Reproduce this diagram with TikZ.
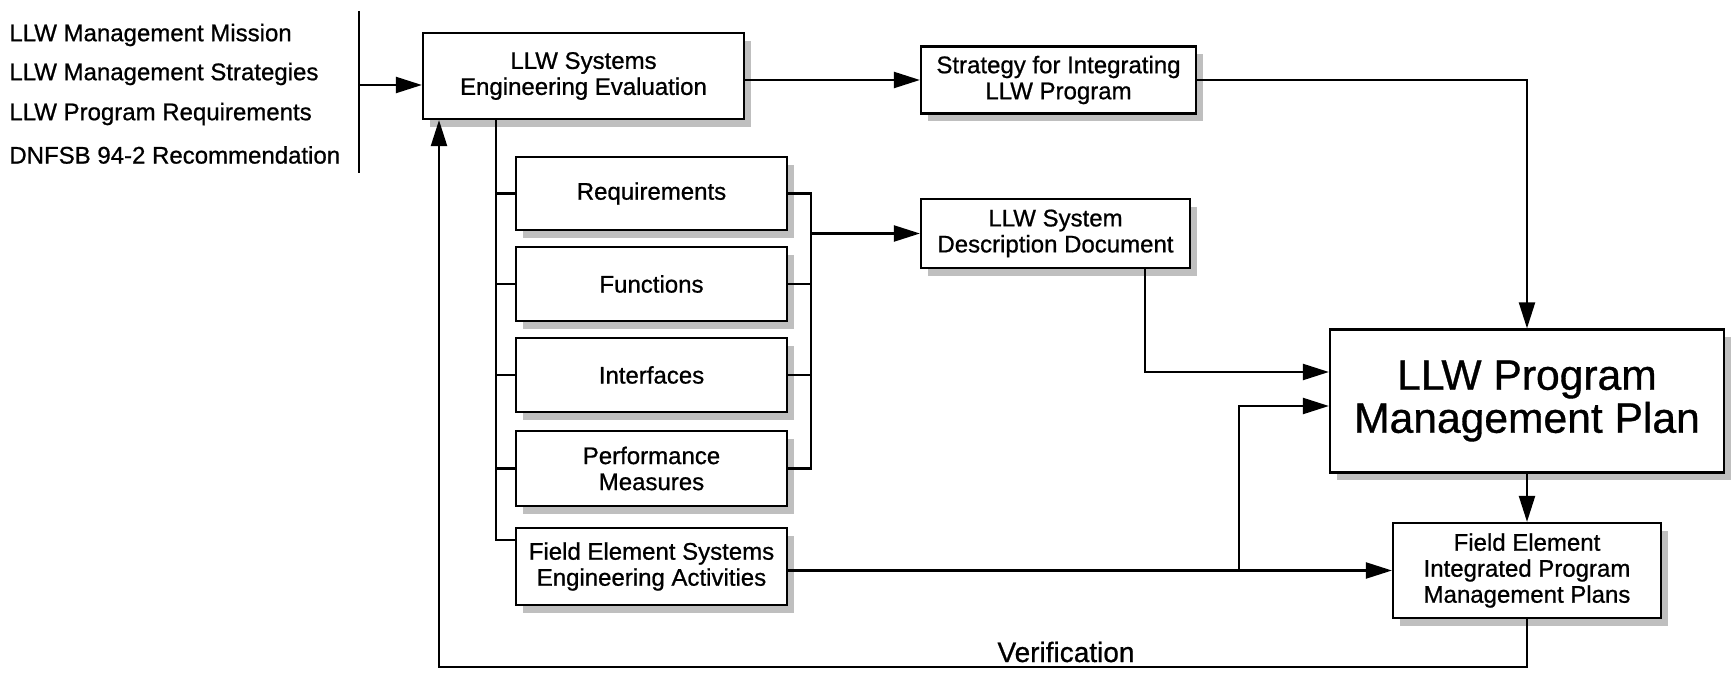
\documentclass[tikz,border=0pt]{standalone}
\usepackage{fontspec}
\setmainfont{Liberation Sans}[FakeBold=0.8]
\usetikzlibrary{arrows.meta,shadows}
\begin{document}
\begin{tikzpicture}[x=0.5pt,y=-0.5pt,
  box/.style={draw,line width=1.1pt,fill=white,align=center,inner sep=0pt,
    drop shadow={shadow xshift=3.5pt,shadow yshift=-4pt,fill=gray!50,opacity=1}},
  ln/.style={line width=1.1pt},
  arr/.style={line width=1.1pt,-{Triangle[length=13pt,width=8pt]}},
  lbl/.style={anchor=west,inner sep=0pt},
  font=\fontsize{12}{13}\selectfont]
\useasboundingbox (0,0) rectangle (1731,678);

% left inputs
\node[lbl] (t1) at (9,35) {LLW Management Mission};
\node[lbl] (t2) at (9,74) {LLW Management Strategies};
\node[lbl] (t3) at (9,114) {LLW Program Requirements};
\node[lbl] (t4) at (9,155) {DNFSB 94-2 Recommendation};
\coordinate (bartop) at (359,11);
\coordinate (barbot) at (359,173);
\coordinate (in) at (359,85);
\draw[ln] (bartop) -- (barbot);

% boxes
\node[box,minimum width=160.5pt,minimum height=43pt] (see) at (583.5,76) {LLW Systems\\Engineering Evaluation};
\node[box,minimum width=137.5pt,minimum height=33.5pt] (strat) at (1058.5,80) {Strategy for Integrating\\LLW Program};
\node[box,minimum width=134.5pt,minimum height=34.5pt] (sdd) at (1055.5,233.5) {LLW System\\Description Document};
\node[box,minimum width=197pt,minimum height=71.5pt,font=\fontsize{21.3}{21.5}\selectfont] (pmp) at (1527,401) {LLW Program\\Management Plan};
\node[box,minimum width=134pt,minimum height=47.5pt] (feip) at (1527,570.5) {Field Element\\Integrated Program\\Management Plans};

\node[box,minimum width=135.5pt,minimum height=36.5pt] (req) at (651.5,193.5) {Requirements};
\node[box,minimum width=135.5pt,minimum height=37pt] (func) at (651.5,284) {Functions};
\node[box,minimum width=135.5pt,minimum height=37pt] (intf) at (651.5,375) {Interfaces};
\node[box,minimum width=135.5pt,minimum height=37.5pt] (perf) at (651.5,468.5) {Performance\\Measures};
\node[box,minimum width=135.5pt,minimum height=38.5pt] (fesea) at (651.5,566.5) {Field Element Systems\\Engineering Activities};

% connectors
\draw[arr] (in) -- (see.west |- in);
\draw[arr] (see.east |- strat) -- (strat.west);
\draw[arr] (strat.east) -| (pmp.north);

\coordinate (fb) at (496,540);
\draw[ln] (see.south -| fb) -- (fb) -- (fb -| fesea.west);
\draw[ln] (fb |- req) -- (req.west);
\draw[ln] (fb |- func) -- (func.west);
\draw[ln] (fb |- intf) -- (intf.west);
\draw[ln] (fb |- perf) -- (perf.west);

\coordinate (rb) at (811,0);
\draw[ln] (req.east) -- (req -| rb) -- (perf -| rb) -- (perf.east);
\draw[ln] (func.east) -- (func -| rb);
\draw[ln] (intf.east) -- (intf -| rb);
\draw[arr] (rb |- sdd) -- (sdd.west);

\coordinate (sx) at (1145,372);
\draw[arr] (sdd.south -| sx) -- (sx) -- (sx -| pmp.west);

\draw[arr] (fesea.east |- feip) -- (feip.west);
\coordinate (bx) at (1239,406);
\draw[arr] (bx |- feip) -- (bx) -- (bx -| pmp.west);

\draw[arr] (pmp.south) -- (feip.north);

\coordinate (vb) at (439,667);
\draw[arr] (feip.south) |- (vb) -- (vb |- see.south);
\node[font=\fontsize{14}{15}\selectfont] (ver) at (1066,652) {Verification};
\end{tikzpicture}
\end{document}
